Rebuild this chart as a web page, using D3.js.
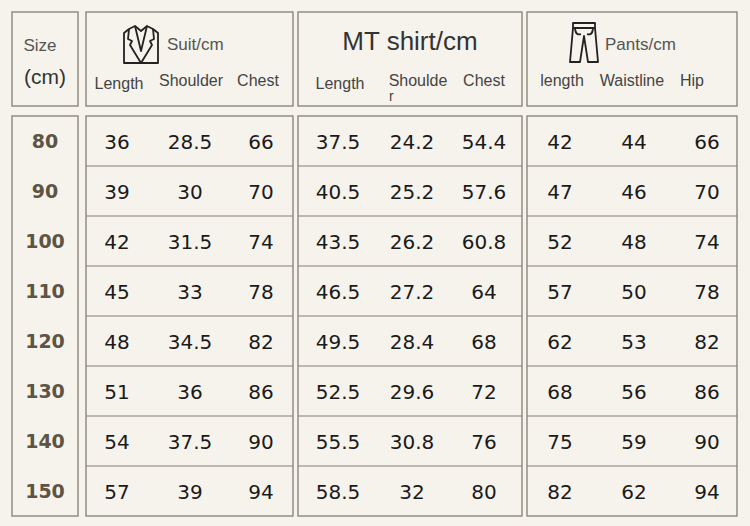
<!DOCTYPE html>
<html><head><meta charset="utf-8">
<script src="https://cdn.jsdelivr.net/npm/d3@7"></script>
<style>body{margin:0;background:#f6f3ec}svg{display:block}</style>
</head><body><svg id="c" width="750" height="526"></svg>
<script>
const sizes = [80, 90, 100, 110, 120, 130, 140, 150];
const suitLength = [36, 39, 42, 45, 48, 51, 54, 57];
const suitShoulder = ['28.5', '30', '31.5', '33', '34.5', '36', '37.5', '39'];
const suitChest = [66, 70, 74, 78, 82, 86, 90, 94];
const shirtLength = ['37.5', '40.5', '43.5', '46.5', '49.5', '52.5', '55.5', '58.5'];
const shirtShoulder = ['24.2', '25.2', '26.2', '27.2', '28.4', '29.6', '30.8', '32'];
const shirtChest = ['54.4', '57.6', '60.8', '64', '68', '72', '76', '80'];
const pantsLength = [42, 47, 52, 57, 62, 68, 75, 82];
const pantsWaist = [44, 46, 48, 50, 53, 56, 59, 62];
const pantsHip = [66, 70, 74, 78, 82, 86, 90, 94];

const groups = [
	{ name: 'Suit/cm', icon: 'suit', x0: 86, x1: 293, cols: ['Length', 'Shoulder', 'Chest'], data: [suitLength, suitShoulder, suitChest] },
	{ name: 'MT shirt/cm', icon: null, x0: 298, x1: 522, cols: ['Length', 'Shoulde', 'Chest'], data: [shirtLength, shirtShoulder, shirtChest] },
	{ name: 'Pants/cm', icon: 'pants', x0: 527, x1: 737, cols: ['length', 'Waistline', 'Hip'], data: [pantsLength, pantsWaist, pantsHip] }
];
const colX = [[117, 190, 261], [338, 412, 484], [560, 634, 707]];
const headColX = [[119, 191, 258], [340, 418, 484], [562, 632, 692]];

const svg = d3.select('#c');
const line = '#857e72';
const y = d3.scaleBand().domain(sizes).range([116, 516]);

svg.append('rect').attr('x', 12).attr('y', 12).attr('width', 66).attr('height', 94)
	.attr('fill', 'none').attr('stroke', line).attr('stroke-width', 1.3);
svg.append('text').attr('x', 40).attr('y', 51).attr('text-anchor', 'middle')
	.attr('font-family', 'Liberation Sans').attr('font-size', 17).attr('fill', '#555').text('Size');
svg.append('text').attr('x', 45).attr('y', 84).attr('text-anchor', 'middle')
	.attr('font-family', 'Liberation Sans').attr('font-size', 21).attr('fill', '#333').text('(cm)');

svg.append('rect').attr('x', 12).attr('y', 116).attr('width', 66).attr('height', 400)
	.attr('fill', 'none').attr('stroke', line).attr('stroke-width', 1.3);
svg.selectAll('.size').data(sizes).enter().append('text')
	.attr('x', 45).attr('y', d => y(d) + y.bandwidth() / 2 + 7).attr('text-anchor', 'middle')
	.attr('font-family', 'DejaVu Sans').attr('font-weight', 'bold').attr('font-size', 19)
	.attr('fill', '#5e5444').text(d => d);

const g = svg.selectAll('.grp').data(groups).enter().append('g');
g.append('rect').attr('x', d => d.x0).attr('y', 12).attr('width', d => d.x1 - d.x0).attr('height', 94)
	.attr('fill', 'none').attr('stroke', line).attr('stroke-width', 1.3);
g.append('rect').attr('x', d => d.x0).attr('y', 116).attr('width', d => d.x1 - d.x0).attr('height', 400)
	.attr('fill', 'none').attr('stroke', line).attr('stroke-width', 1.3);
g.selectAll('.rl').data(sizes.slice(1)).enter().append('line')
	.attr('x1', function() { return d3.select(this.parentNode).datum().x0; })
	.attr('x2', function() { return d3.select(this.parentNode).datum().x1; })
	.attr('y1', d => y(d)).attr('y2', d => y(d)).attr('stroke', line).attr('stroke-width', 1);

g.append('text')
	.attr('x', d => d.icon ? d.x0 + (d.icon === 'suit' ? 81 : 78) : (d.x0 + d.x1) / 2)
	.attr('y', d => d.icon ? 50 : 50)
	.attr('text-anchor', d => d.icon ? 'start' : 'middle')
	.attr('font-family', 'Liberation Sans')
	.attr('font-size', d => d.icon ? 17 : 26)
	.attr('fill', d => d.icon ? '#555' : '#333')
	.text(d => d.name);

g.each(function(d, i) {
	const s = d3.select(this);
	s.selectAll('.hc').data(d.cols).enter().append('text')
		.attr('x', (c, j) => headColX[i][j]).attr('y', (c, j) => j === 0 && i < 2 ? 89 : 86)
		.attr('text-anchor', 'middle').attr('font-family', 'Liberation Sans').attr('font-size', 16)
		.attr('fill', '#444').text(c => c);
	d.data.forEach((col, j) => {
		s.selectAll('.v' + j).data(col).enter().append('text')
			.attr('x', colX[i][j]).attr('y', (v, k) => y(sizes[k]) + y.bandwidth() / 2 + 8)
			.attr('text-anchor', 'middle').attr('font-family', 'DejaVu Sans').attr('font-size', 20)
			.attr('fill', '#1a1a1a').text(v => v);
	});
});
svg.append('text').attr('x', 389).attr('y', 101).attr('font-family', 'Liberation Sans').attr('font-size', 14)
	.attr('fill', '#444').text('r');

const suit = svg.append('g').attr('transform', 'translate(123,25)')
	.attr('fill', 'none').attr('stroke', '#222').attr('stroke-width', 1.8).attr('stroke-linejoin', 'round');
suit.append('path').attr('d', 'M6,4 L12,1 L18,6 L24,1 L30,4 L35,8 L35,38 L1,38 L1,8 Z');
suit.append('path').attr('d', 'M6,4 L5,14 L9,16 L7,20 L18,38 L29,20 L27,16 L31,14 L30,4');
suit.append('path').attr('d', 'M12,1 L18,26 L24,1');
const pants = svg.append('g').attr('transform', 'translate(570,22)')
	.attr('fill', 'none').attr('stroke', '#222').attr('stroke-width', 1.8).attr('stroke-linejoin', 'round');
pants.append('path').attr('d', 'M3,1 L25,1 L25,6 L3,6 Z');
pants.append('path').attr('d', 'M3,6 L0,40 L10,40 L14,14 L18,40 L28,40 L25,6');
pants.append('path').attr('d', 'M5,7 Q6,14 11,12 M23,7 Q22,14 17,12');
</script></body></html>
